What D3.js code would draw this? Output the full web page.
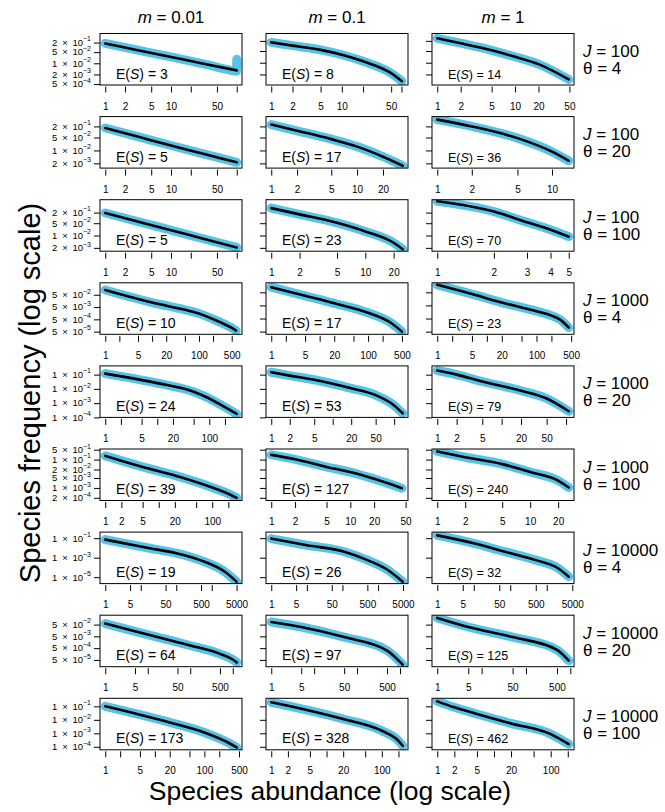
<!DOCTYPE html>
<html>
<head>
<meta charset="utf-8">
<style>
  body { margin: 0; padding: 0; background-color: #fff; }
  svg { display: block; font-family: "Liberation Sans", Arial, sans-serif; }
</style>
</head>
<body>
<div id="chart"></div>
<script src="https://cdn.jsdelivr.net/npm/d3@7"></script>
<script>
// columns: migration rate m; rows: community size J and theta
var mLabels = ["0.01", "0.1", "1"];
var Jvalues = [100, 100, 100, 1000, 1000, 1000, 10000, 10000, 10000];
var thetaValues = [4, 20, 100, 4, 20, 100, 4, 20, 100];
var expectedS = [[3, 8, 14], [5, 17, 36], [5, 23, 70], [10, 17, 23], [24, 53, 79],
                 [39, 127, 240], [19, 26, 32], [64, 97, 125], [173, 328, 462]];

// largest abundance shown on each panel's x axis
var xMax = [[100, 73, 49], [100, 34, 14], [100, 25, 5], [640, 520, 447], [337, 138, 110],
            [287, 46, 26], [5060, 4930, 4000], [1241, 1161, 922], [450, 239, 208]];

var xTicks = [
  [[1, 2, 5, 10, 20, 50, 100], [1, 2, 5, 10, 20, 50, 70], [1, 2, 5, 10, 20, 50]],
  [[1, 2, 5, 10, 20, 50, 100], [1, 2, 5, 10, 20], [1, 2, 5, 10]],
  [[1, 2, 5, 10, 20, 50, 100], [1, 2, 5, 10, 20], [1, 2, 3, 4, 5]],
  [[1, 2, 5, 10, 20, 50, 100, 200, 500], [1, 2, 5, 10, 20, 50, 100, 200, 500], [1, 2, 5, 10, 20, 50, 100, 200, 500]],
  [[1, 2, 5, 10, 20, 50, 100, 200], [1, 2, 5, 10, 20, 50, 100], [1, 2, 5, 10, 20, 50, 100]],
  [[1, 2, 5, 10, 20, 50, 100, 200], [1, 2, 5, 10, 20, 50], [1, 2, 5, 10, 20]],
  [[1, 5, 10, 50, 100, 500, 1000, 5000], [1, 5, 10, 50, 100, 500, 1000, 5000], [1, 5, 10, 50, 100, 500, 1000, 5000]],
  [[1, 5, 10, 50, 100, 500, 1000], [1, 5, 10, 50, 100, 500, 1000], [1, 5, 10, 50, 100, 500, 1000]],
  [[1, 2, 5, 10, 20, 50, 100, 200, 500], [1, 2, 5, 10, 20, 50, 100, 200], [1, 2, 5, 10, 20, 50, 100, 200]]
];
var xLabels = [
  [["1", "2", "5", "10", "", "50", ""], ["1", "2", "5", "10", "", "50", ""], ["1", "2", "5", "10", "20", "50"]],
  [["1", "2", "5", "10", "", "50", ""], ["1", "2", "5", "10", "20"], ["1", "2", "5", "10"]],
  [["1", "2", "5", "10", "", "50", ""], ["1", "2", "5", "10", "20"], ["1", "2", "3", "4", "5"]],
  [["1", "", "5", "", "20", "", "100", "", "500"], ["1", "", "5", "", "20", "", "100", "", "500"], ["1", "", "5", "", "20", "", "100", "", "500"]],
  [["1", "", "5", "", "20", "", "100", ""], ["1", "2", "5", "", "20", "50", ""], ["1", "2", "5", "", "20", "50", ""]],
  [["1", "2", "5", "", "20", "", "100", ""], ["1", "2", "5", "10", "20", "50"], ["1", "2", "5", "10", "20"]],
  [["1", "5", "", "50", "", "500", "", "5000"], ["1", "5", "", "50", "", "500", "", "5000"], ["1", "5", "", "50", "", "500", "", "5000"]],
  [["1", "5", "", "50", "", "500", ""], ["1", "5", "", "50", "", "500", ""], ["1", "5", "", "50", "", "500", ""]],
  [["1", "", "5", "", "20", "", "100", "", "500"], ["1", "2", "5", "", "20", "", "100", ""], ["1", "2", "5", "", "20", "", "100", ""]]
];

// y range of each panel (bottom, top)
var yLim = [
  [[4.35e-4, 0.74], [4.7e-4, 0.55], [4.7e-4, 0.55]],
  [[1.11e-3, 0.678], [1.11e-3, 0.678], [1.11e-3, 0.678]],
  [[1.29e-3, 1.08], [1.29e-3, 1.08], [1.29e-3, 1.08]],
  [[3.03e-5, 0.472], [3.13e-5, 0.267], [3.13e-5, 0.267]],
  [[1e-4, 0.41], [1e-4, 0.41], [1e-4, 0.41]],
  [[1.29e-4, 0.56], [1.29e-4, 0.56], [1.29e-4, 0.56]],
  [[2.2e-6, 0.42], [2.2e-6, 0.42], [2.2e-6, 0.42]],
  [[1.33e-5, 0.313], [1.33e-5, 0.313], [1.33e-5, 0.313]],
  [[6e-5, 0.394], [6e-5, 0.394], [6e-5, 0.394]]
];
var yTicks = [
  [0.2, 0.05, 0.01, 0.002, 0.0005],
  [0.2, 0.05, 0.01, 0.002],
  [0.2, 0.05, 0.01, 0.002],
  [5e-2, 5e-3, 5e-4, 5e-5],
  [1e-1, 1e-2, 1e-3, 1e-4],
  [5e-1, 1e-1, 2e-2, 5e-3, 1e-3, 2e-4],
  [1e-1, 1e-3, 1e-5],
  [5e-2, 5e-3, 5e-4, 5e-5],
  [1e-1, 1e-2, 1e-3, 1e-4]
];
// the unlabelled axes of columns 2 and 3
var yTicksInner = [
  [0.2, 0.05, 0.01, 0.002],
  [0.2, 0.05, 0.01, 0.002],
  [0.2, 0.05, 0.01, 0.002],
  [5e-2, 5e-3, 5e-4, 5e-5],
  [1e-1, 1e-2, 1e-3, 1e-4],
  [5e-1, 1e-1, 2e-2, 5e-3, 1e-3, 2e-4],
  [1e-1, 1e-3, 1e-5],
  [5e-2, 5e-3, 5e-4, 5e-5],
  [1e-1, 1e-2, 1e-3, 1e-4]
];

// black: expected frequency, [abundance, frequency]
var expected = [
  [[[1, 0.174], [3, 0.069], [10, 0.025], [30, 0.0098], [100, 0.0036]],
   [[1, 0.162], [2, 0.104], [5, 0.058], [10, 0.0298], [20, 0.0122], [50, 0.00238], [71, 0.00079]],
   [[1, 0.283], [2, 0.145], [5, 0.055], [10, 0.0225], [20, 0.0082], [49, 0.00101]]],
  [[[1, 0.164], [3, 0.058], [10, 0.0185], [30, 0.0068], [100, 0.00227]],
   [[1, 0.25], [2, 0.116], [5, 0.041], [10, 0.0161], [20, 0.00459], [34, 0.00148]],
   [[1, 0.465], [2, 0.2], [5, 0.0465], [10, 0.0086], [14, 0.00277]]],
  [[[1, 0.19], [3, 0.0648], [10, 0.02], [30, 0.0068], [100, 0.0021]],
   [[1, 0.36], [2, 0.159], [5, 0.0525], [10, 0.017], [20, 0.0039], [25, 0.00168]],
   [[1, 0.873], [2, 0.229], [3, 0.0568], [4, 0.0214], [5, 0.0087]]],
  [[[1, 0.123], [3, 0.038], [10, 0.0116], [50, 0.003], [100, 0.00149], [200, 5.2e-4], [500, 1.0e-4], [620, 6.05e-5]],
   [[1, 0.123], [5, 0.0271], [20, 0.0073], [100, 0.00137], [300, 2.26e-4], [500, 5.0e-5]],
   [[1, 0.186], [5, 0.0368], [20, 0.00828], [100, 0.00182], [200, 8.4e-4], [300, 4.1e-4], [447, 1.03e-4]]],
  [[[1, 0.118], [10, 0.0253], [50, 0.0063], [100, 0.00211], [200, 5.24e-4], [336, 1.76e-4]],
   [[1, 0.146], [2, 0.085], [5, 0.0437], [20, 0.011], [50, 0.00364], [100, 6.95e-4], [138, 1.94e-4]],
   [[1, 0.194], [2, 0.1], [5, 0.033], [20, 0.00743], [50, 0.00211], [110, 2.7e-4]]],
  [[[1, 0.183], [5, 0.0305], [20, 0.0076], [100, 0.00107], [200, 3.9e-4], [286, 2.0e-4]],
   [[1, 0.216], [2, 0.105], [5, 0.0305], [10, 0.0132], [20, 0.00436], [45, 9.6e-4]],
   [[1, 0.376], [2, 0.147], [5, 0.0479], [10, 0.0132], [20, 0.00328], [26, 0.00107]]],
  [[[1, 0.071], [18, 0.0093], [100, 0.00289], [470, 5.6e-4], [2400, 3.4e-5], [5000, 3.5e-6]],
   [[1, 0.0897], [10, 0.0188], [100, 0.00461], [500, 5.6e-4], [1700, 6.9e-5], [4930, 3.5e-6]],
   [[1, 0.194], [10, 0.03], [50, 0.00582], [500, 5.6e-4], [2000, 8.7e-5], [4000, 1.13e-5]]],
  [[[1, 0.061], [5, 0.0133], [50, 0.00161], [100, 8.4e-4], [500, 1.64e-4], [1000, 5.4e-5], [1236, 3.1e-5]],
   [[1, 0.0835], [5, 0.0311], [50, 0.00432], [500, 3.14e-4], [1161, 2.0e-5]],
   [[1, 0.184], [5, 0.0311], [50, 0.00432], [500, 3.6e-4], [922, 4.4e-5]]],
  [[[1, 0.1], [5, 0.0241], [20, 0.00644], [100, 0.00116], [300, 2.08e-4], [450, 8.9e-5]],
   [[1, 0.199], [5, 0.0478], [20, 0.0115], [100, 0.00155], [200, 2.8e-4], [239, 1.19e-4]],
   [[1, 0.235], [2, 0.0843], [5, 0.0272], [20, 0.00542], [100, 8.8e-4], [208, 1.58e-4]]]
];

// blue: simulated frequency
var simulated = [
  [[[1, 0.18], [3, 0.069], [10, 0.025], [30, 0.0095], [90, 0.0034], [99, 0.0032], [100, 0.018]],
   [[1, 0.162], [2, 0.104], [5, 0.058], [10, 0.0298], [20, 0.0122], [50, 0.00238], [71, 0.00079]],
   [[1, 0.283], [2, 0.145], [5, 0.055], [10, 0.0225], [20, 0.0082], [49, 0.00101]]],
  [[[1, 0.164], [3, 0.058], [10, 0.0185], [30, 0.0068], [100, 0.00227]],
   [[1, 0.25], [2, 0.116], [5, 0.041], [10, 0.0161], [20, 0.00459], [34, 0.00148]],
   [[1, 0.465], [2, 0.2], [5, 0.0465], [10, 0.0086], [14, 0.00277]]],
  [[[1, 0.19], [3, 0.0648], [10, 0.02], [30, 0.0068], [100, 0.0021]],
   [[1, 0.36], [2, 0.159], [5, 0.0525], [10, 0.017], [20, 0.0039], [25, 0.00168]],
   [[1, 0.873], [2, 0.229], [3, 0.0568], [4, 0.0214], [5, 0.0087]]],
  [[[1, 0.123], [3, 0.038], [10, 0.0116], [50, 0.003], [100, 0.00149], [200, 5.2e-4], [500, 1.0e-4], [620, 6.05e-5]],
   [[1, 0.123], [5, 0.0271], [20, 0.0073], [100, 0.00137], [300, 2.26e-4], [500, 5.0e-5]],
   [[1, 0.186], [5, 0.0368], [20, 0.00828], [100, 0.00182], [200, 8.4e-4], [300, 4.1e-4], [447, 1.03e-4]]],
  [[[1, 0.118], [10, 0.0253], [50, 0.0063], [100, 0.00211], [200, 5.24e-4], [336, 1.76e-4]],
   [[1, 0.146], [2, 0.085], [5, 0.0437], [20, 0.011], [50, 0.00364], [100, 6.95e-4], [138, 1.94e-4]],
   [[1, 0.194], [2, 0.1], [5, 0.033], [20, 0.00743], [50, 0.00211], [110, 2.7e-4]]],
  [[[1, 0.183], [5, 0.0305], [20, 0.0076], [100, 0.00107], [200, 3.9e-4], [286, 2.0e-4]],
   [[1, 0.216], [2, 0.105], [5, 0.0305], [10, 0.0132], [20, 0.00436], [45, 9.6e-4]],
   [[1, 0.376], [2, 0.147], [5, 0.0479], [10, 0.0132], [20, 0.00328], [26, 0.00107]]],
  [[[1, 0.071], [18, 0.0093], [100, 0.00289], [470, 5.6e-4], [2400, 3.4e-5], [5000, 3.5e-6]],
   [[1, 0.0897], [10, 0.0188], [100, 0.00461], [500, 5.6e-4], [1700, 6.9e-5], [4930, 3.5e-6]],
   [[1, 0.194], [10, 0.03], [50, 0.00582], [500, 5.6e-4], [2000, 8.7e-5], [4000, 1.13e-5]]],
  [[[1, 0.061], [5, 0.0133], [50, 0.00161], [100, 8.4e-4], [500, 1.64e-4], [1000, 5.4e-5], [1236, 3.1e-5]],
   [[1, 0.0835], [5, 0.0311], [50, 0.00432], [500, 3.14e-4], [1161, 2.0e-5]],
   [[1, 0.184], [5, 0.0311], [50, 0.00432], [500, 3.6e-4], [922, 4.4e-5]]],
  [[[1, 0.1], [5, 0.0241], [20, 0.00644], [100, 0.00116], [300, 2.08e-4], [450, 8.9e-5]],
   [[1, 0.199], [5, 0.0478], [20, 0.0115], [100, 0.00155], [200, 2.8e-4], [239, 1.19e-4]],
   [[1, 0.235], [2, 0.0843], [5, 0.0272], [20, 0.00542], [100, 8.8e-4], [208, 1.58e-4]]]
];

var width = 665, height = 812;
var panelW = 142, panelH = 51.5;
var colLeft = [100, 266, 432];
function rowTop(r) { return 33.5 + r * 83.1; }
var blue = "#55c3ea";

var svg = d3.select("#chart").append("svg")
    .attr("width", width)
    .attr("height", height);

var defs = svg.append("defs");

for (var r = 0; r < 9; r++) {
    for (var c = 0; c < 3; c++) {
        drawPanel(r, c);
    }
    var rowY = rowTop(r);
    var lab = svg.append("text").attr("x", 583).attr("y", rowY + 23.5).attr("font-size", 17);
    lab.append("tspan").attr("font-style", "italic").text("J");
    lab.append("tspan").text(" = " + Jvalues[r]);
    svg.append("text").attr("x", 583).attr("y", rowY + 40.5).attr("font-size", 17)
        .text("\u03b8 = " + thetaValues[r]);
}

for (var c = 0; c < 3; c++) {
    var h = svg.append("text")
        .attr("x", colLeft[c] + panelW / 2)
        .attr("y", 23)
        .attr("text-anchor", "middle")
        .attr("font-size", 17);
    h.append("tspan").attr("font-style", "italic").text("m");
    h.append("tspan").text(" = " + mLabels[c]);
}

svg.append("text")
    .attr("x", 330).attr("y", 800)
    .attr("text-anchor", "middle")
    .attr("font-size", 26.5)
    .text("Species abundance (log scale)");

svg.append("text")
    .attr("transform", "translate(40,393) rotate(-90)")
    .attr("text-anchor", "middle")
    .attr("font-size", 29)
    .text("Species frequency (log scale)");

function drawPanel(r, c) {
    var left = colLeft[c], y0 = rowTop(r), bottom = y0 + panelH;
    var L = Math.log10(xMax[r][c]);
    var x = d3.scaleLog()
        .domain([Math.pow(10, -0.04 * L), Math.pow(10, 1.04 * L)])
        .range([left, left + panelW]);
    var y = d3.scaleLog()
        .domain(yLim[r][c])
        .range([bottom, y0]);

    var g = svg.append("g");
    var clipId = "clip-" + r + "-" + c;
    defs.append("clipPath").attr("id", clipId)
        .append("rect")
        .attr("x", left).attr("y", y0)
        .attr("width", panelW).attr("height", panelH);

    var line = d3.line()
        .x(function(d) { return x(d[0]); })
        .y(function(d) { return y(d[1]); })
        .curve(d3.curveMonotoneX);

    g.append("path")
        .datum(simulated[r][c])
        .attr("d", line)
        .attr("fill", "none")
        .attr("stroke", blue)
        .attr("stroke-width", 9)
        .attr("stroke-linecap", "round")
        .attr("stroke-linejoin", "round")
        .attr("clip-path", "url(#" + clipId + ")");

    g.append("path")
        .datum(expected[r][c])
        .attr("d", line)
        .attr("fill", "none")
        .attr("stroke", "#000")
        .attr("stroke-width", 2.6)
        .attr("stroke-linecap", "round")
        .attr("stroke-linejoin", "round")
        .attr("clip-path", "url(#" + clipId + ")");

    g.append("rect")
        .attr("x", left).attr("y", y0)
        .attr("width", panelW).attr("height", panelH)
        .attr("fill", "none")
        .attr("stroke", "#000")
        .attr("stroke-width", 1);

    var labels = xLabels[r][c];
    var xa = g.append("g")
        .attr("transform", "translate(0," + (bottom + 1.5) + ")")
        .call(d3.axisBottom(x)
            .tickValues(xTicks[r][c])
            .tickFormat(function(d, i) { return labels[i]; })
            .tickSize(6)
            .tickPadding(10))
        .attr("font-size", 10)
        .attr("font-family", null);
    xa.select(".domain").remove();

    var yt = c === 0 ? yTicks[r] : yTicksInner[r];
    var ya = g.append("g")
        .attr("transform", "translate(" + left + ",0)")
        .call(d3.axisLeft(y)
            .tickValues(yt)
            .tickFormat("")
            .tickSize(6))
        .attr("font-family", null);
    ya.select(".domain").remove();

    if (c === 0) {
        yt.forEach(function(v) {
            var e = Math.floor(Math.log10(v) + 1e-9);
            var mant = Math.round(v / Math.pow(10, e));
            var t = g.append("text")
                .attr("x", left - 9)
                .attr("y", y(v))
                .attr("dy", "0.35em")
                .attr("text-anchor", "end")
                .attr("font-size", 9.5);
            t.append("tspan").text(mant + "\u2002\u00d7\u200210");
            t.append("tspan").attr("dy", -4.5).attr("font-size", 7).text("\u2212" + (-e));
        });
    }

    var es = g.append("text")
        .attr("x", left + 16)
        .attr("y", y0 + 45)
        .attr("font-size", c === 2 ? 12.5 : 14);
    es.append("tspan").text("E(");
    es.append("tspan").attr("font-style", "italic").text("S");
    es.append("tspan").text(") = " + expectedS[r][c]);
}
</script>
</body>
</html>
